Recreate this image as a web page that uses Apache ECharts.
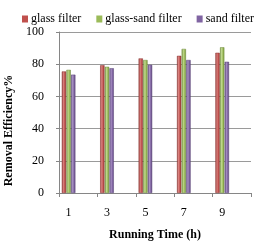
<!DOCTYPE html>
<html><head><meta charset="utf-8">
<script src="https://cdn.jsdelivr.net/npm/echarts@6/dist/echarts.min.js"></script>
<style>html,body{margin:0;padding:0;background:#fff}#c{width:266px;height:243px}</style>
</head><body><div id="c"></div>
<script>
var hours = ['1','2','3','4','5','6','7','8','9','10'];
var glassFilter     = [75.5, null, 79.4, null, 83.6, null, 85.2, null, 87.1, null];
var glassSandFilter = [76.5, null, 78.4, null, 82.6, null, 89.5, null, 90.5, null];
var sandFilter      = [73.5, null, 77.5, null, 79.6, null, 82.6, null, 81.5, null];
var yTicks = [0, 20, 40, 60, 80, 100];
var seriesNames = ['glass filter', 'glass-sand filter', 'sand filter'];
var colors = [['#d9827f','#c0504d','#8c3533'], ['#c0d98e','#9bbb59','#6f8a3a'], ['#a993c4','#8064a2','#5a4478']];

function grad(c){
  return new echarts.graphic.LinearGradient(0,0,1,0,[
    {offset:0,color:c[2]},{offset:0.35,color:c[0]},{offset:0.7,color:c[1]},{offset:1,color:c[2]}]);
}
var font = '"Liberation Serif","Times New Roman",serif';
var data = [glassFilter, glassSandFilter, sandFilter];
var chart = echarts.init(document.getElementById('c'), null, {renderer:'canvas'});
chart.setOption({
  animation:false,
  textStyle:{fontFamily:font},
  legend:{
    top:8, left:17, itemWidth:6, itemHeight:7, itemGap:15,
    icon:'rect',
    textStyle:{fontFamily:font, fontSize:12, color:'#000', padding:[0,0,0,-2]},
    data: seriesNames.map(function(n,i){return {name:n, itemStyle:{color:colors[i][1], borderWidth:0}};})
  },
  grid:{left:59, right:15, top:32, bottom:50, outerBoundsMode:'none', containLabel:false},
  xAxis:{
    type:'category', data:hours,
    name:'Running Time (h)', nameLocation:'middle', nameGap:36,
    nameTextStyle:{fontFamily:font, fontWeight:'bold', fontSize:12, color:'#000'},
    axisLine:{lineStyle:{color:'#868686'}},
    axisTick:{show:true, length:4, lineStyle:{color:'#868686'}},
    axisLabel:{interval:1, fontFamily:font, fontSize:12, color:'#000', margin:14}
  },
  yAxis:{
    type:'value', min:yTicks[0], max:yTicks[yTicks.length-1], interval:20,
    name:'Removal Efficiency%', nameLocation:'middle', nameGap:36,
    nameTextStyle:{fontFamily:font, fontWeight:'bold', fontSize:12, color:'#000', padding:[0,36,0,0]},
    axisLine:{show:true, lineStyle:{color:'#868686'}},
    axisTick:{show:true, length:3, inside:false, lineStyle:{color:'#868686'}},
    axisLabel:{fontFamily:font, fontSize:12, color:'#000', margin:15},
    splitLine:{lineStyle:{color:'#9a9a9a', width:1.2}}
  },
  series: seriesNames.map(function(n,i){
    return {name:n, type:'bar', data:data[i], barWidth:4.3, barGap:'8%',
      itemStyle:{color:grad(colors[i]), borderColor:colors[i][2], borderWidth:0.5}};
  })
});
</script></body></html>
